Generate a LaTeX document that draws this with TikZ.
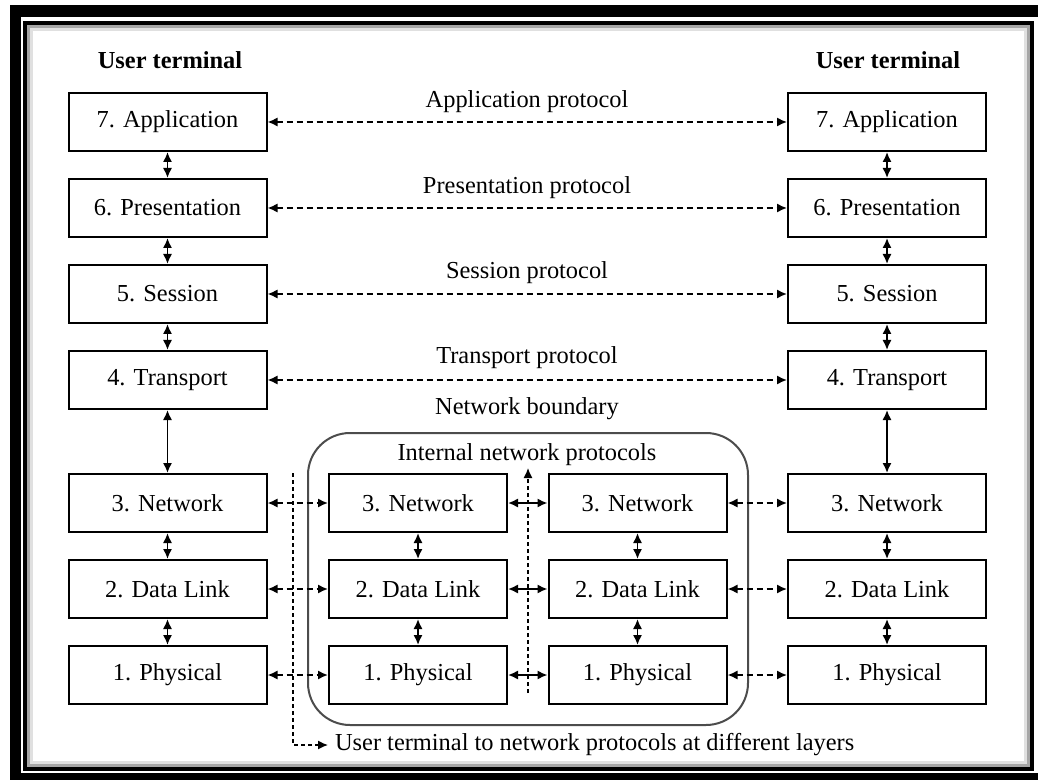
\documentclass[tikz,border=0pt]{standalone}
\usepackage{fontspec}
\setmainfont{Liberation Serif}
\usetikzlibrary{arrows.meta}

\begin{document}
\begin{tikzpicture}[x=0.5pt,y=-0.5pt,
  layer/.style={draw,line width=1pt,minimum width=99pt,minimum height=29pt,
                inner sep=0pt,font=\fontsize{12.2}{14}\selectfont},
  inlayer/.style={layer,minimum width=89pt},
  lbl/.style={font=\fontsize{12.2}{14}\selectfont},
  link/.style={line width=0.9pt,{Latex[length=5pt,width=4.6pt]}-{Latex[length=5pt,width=4.6pt]}},
  peer/.style={link,dash pattern=on 3pt off 2pt},
  marker/.style={line width=0.8pt,dash pattern=on 2pt off 1.5pt}]
\useasboundingbox (0,0) rectangle (1038,780);
% frame
\fill (10,5) rectangle (1038,780);
\fill[white] (21,17) rectangle (1038,773);
\draw[line width=2pt] (25,23) rectangle (1032,769);
\draw[black!35,line width=1.5pt] (28.5,26.5) rectangle (1028.5,765.5);
\draw[black!12,line width=1.5pt] (31.5,29.5) rectangle (1025.5,762.5);

\node[lbl,font=\fontsize{12.2}{14}\selectfont\bfseries] (userA) at (170,60) {User terminal};
\node[lbl,font=\fontsize{12.2}{14}\selectfont\bfseries] (userB) at (888,60) {User terminal};

% the two end stacks
\foreach \n/\t/\y in {7/Application/122,6/Presentation/208,5/Session/294,
                      4/Transport/380,3/Network/503,2/Data Link/589,1/Physical/675}{
  \node[layer] (L\n) at (167.5,\y) {\n. \t};
  \node[layer] (R\n) at (887,\y)   {\n. \t};
}
% network nodes
\draw[black!70,line width=1pt,rounded corners=21pt] (308,433) rectangle (748,725);
\foreach \n/\t/\y in {3/Network/503,2/Data Link/589,1/Physical/675}{
  \node[inlayer] (P\n) at (418,\y)   {\n. \t};
  \node[inlayer] (Q\n) at (637.5,\y) {\n. \t};
}

\foreach \a/\b in {7/6,6/5,5/4,4/3,3/2,2/1}{
  \draw[link] (L\a) -- (L\b);
  \draw[link] (R\a) -- (R\b);
}
\foreach \a/\b in {3/2,2/1}{
  \draw[link] (P\a) -- (P\b);
  \draw[link] (Q\a) -- (Q\b);
}

% peer protocols
\draw[peer] (L7) -- (R7);
\draw[peer] (L6) -- (R6);
\draw[peer] (L5) -- (R5);
\draw[peer] (L4) -- (R4);
\node[lbl] (proto7) at (527,102) {Application protocol};
\node[lbl] (proto6) at (527,188) {Presentation protocol};
\node[lbl] (proto5) at (527,273) {Session protocol};
\node[lbl] (proto4) at (527,358) {Transport protocol};
\node[lbl] (bound) at (527,409) {Network boundary};
\node[lbl] (inner) at (527,455) {Internal network protocols};

\foreach \n in {3,2,1}{
  \draw[peer] (L\n) -- (P\n);
  \draw[link] (P\n) -- (Q\n);
  \draw[peer] (Q\n) -- (R\n);
}

% markers
\node[lbl,anchor=west] (note) at (328,745) {User terminal to network protocols at different layers};
\coordinate (ut) at (293,473);
\coordinate (ub) at (293,745);
\draw[marker,-{Latex[length=5pt,width=4.6pt]}] (ut) -- (ub) -- (note.west);
\coordinate (mb) at (528,693);
\coordinate (mt) at (528,468);
\draw[marker,-{Latex[length=5pt,width=4.6pt]}] (mb) -- (mt);
\end{tikzpicture}
\end{document}
